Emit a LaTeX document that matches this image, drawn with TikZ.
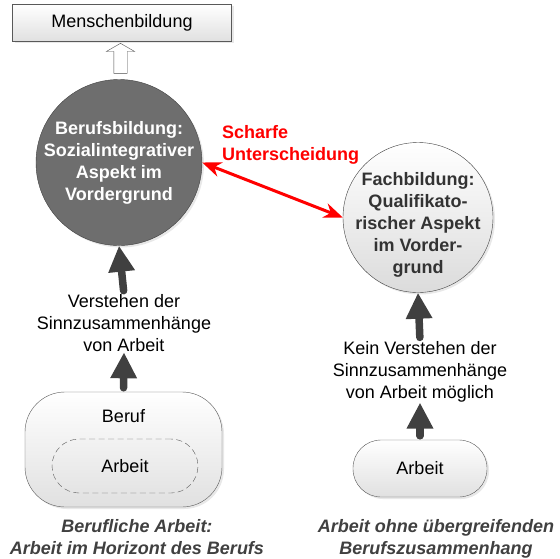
\documentclass[tikz,border=0pt]{standalone}
\usepackage{fontspec}
\setmainfont{Liberation Sans}
\usetikzlibrary{arrows.meta, calc, positioning, shapes.arrows, shadows}

\begin{document}
\begin{tikzpicture}[
    x=1pt, y=-1pt,
    font=\fontsize{18}{22}\selectfont,
    every node/.style={inner sep=0pt},
    shade/.style={drop shadow={opacity=0.18, shadow xshift=2pt, shadow yshift=-2pt}},
    box/.style={draw=black!65, thin, top color=white, bottom color=black!12, shade},
    pill/.style={box, rounded corners=#1},
    innerpill/.style={draw=black!65, dash pattern=on 6pt off 3.5pt, thin, rounded corners=27pt},
    flow/.style={-{Triangle[length=26pt, width=25pt]}, line width=7.5pt, black!75, line cap=round, shorten <=4pt},
    contrast/.style={{Stealth[length=19pt, width=15pt]}-{Stealth[length=19pt, width=15pt]}, line width=3pt, red},
    caption/.style={font=\fontsize{18}{22}\selectfont\bfseries\itshape, text=black!75, align=center}
]
\useasboundingbox (0,0) rectangle (560,558);
%
\node[box, minimum width=219pt, minimum height=37pt] (mb) at (122,22.5) {Menschenbildung};
\node[circle, draw=black!75, fill=black!57, minimum size=166pt, shade,
      label={[font=\fontsize{18}{22}\selectfont\bfseries, text=white, align=center]center:{Berufsbildung:\\Sozialintegrativer\\Aspekt im\\Vordergrund}}]
    (bb) at (119,162.5) {};
\node[single arrow, draw=black!70, fill=white, rotate=90, inner sep=6.5pt, minimum height=30pt,
      single arrow head extend=7.5pt, single arrow tip angle=120]
    (up) at ($(mb.south)!0.5!(bb.north)$) {};
\node[circle, draw=black!75, top color=white, bottom color=black!14, minimum size=150pt, shade,
      label={[font=\fontsize{18}{22}\selectfont\bfseries, text=black!80, align=center, yshift=-7pt]center:{Fachbildung:\\Qualifikato-\\rischer Aspekt\\im Vorder-\\grund}}]
    (fb) at (418,217.5) {};
\node[text=red, font=\fontsize{18}{22}\selectfont\bfseries, align=left, anchor=west]
    (scharf) at (222,144.5) {Scharfe\\Unterscheidung};
\draw[contrast] (bb.east) -- (fb.west);

%
\node[align=center] (vt) at (124,323.5) {Verstehen der\\Sinnzusammenh\"ange\\von Arbeit};
\node[pill=40pt, minimum width=197pt, minimum height=115pt] (beruf) at (123.5,449.5) {};
\node (berufl) at (123.5,416) {Beruf};
\node[innerpill, minimum width=146pt, minimum height=54pt] (arbeit1) at (125,466) {Arbeit};
\draw[flow] (vt.north) -- (bb.south);
\draw[flow] (beruf.north) -- (vt.south);
\node[caption] (cap1) at (137,537.5) {Berufliche Arbeit:\\Arbeit im Horizont des Berufs};

%
\node[align=center] (kv) at (420,372) {Kein Verstehen der\\Sinnzusammenh\"ange\\von Arbeit m\"oglich};
\node[pill=28pt, minimum width=134pt, minimum height=57pt] (arbeit2) at (420,468.5) {Arbeit};
\draw[flow] (kv.north) -- (fb.south);
\draw[flow] (arbeit2.north) -- (kv.south);
\node[caption] (cap2) at (436,539) {Arbeit ohne \"ubergreifenden\\Berufszusammenhang};
\end{tikzpicture}
\end{document}
